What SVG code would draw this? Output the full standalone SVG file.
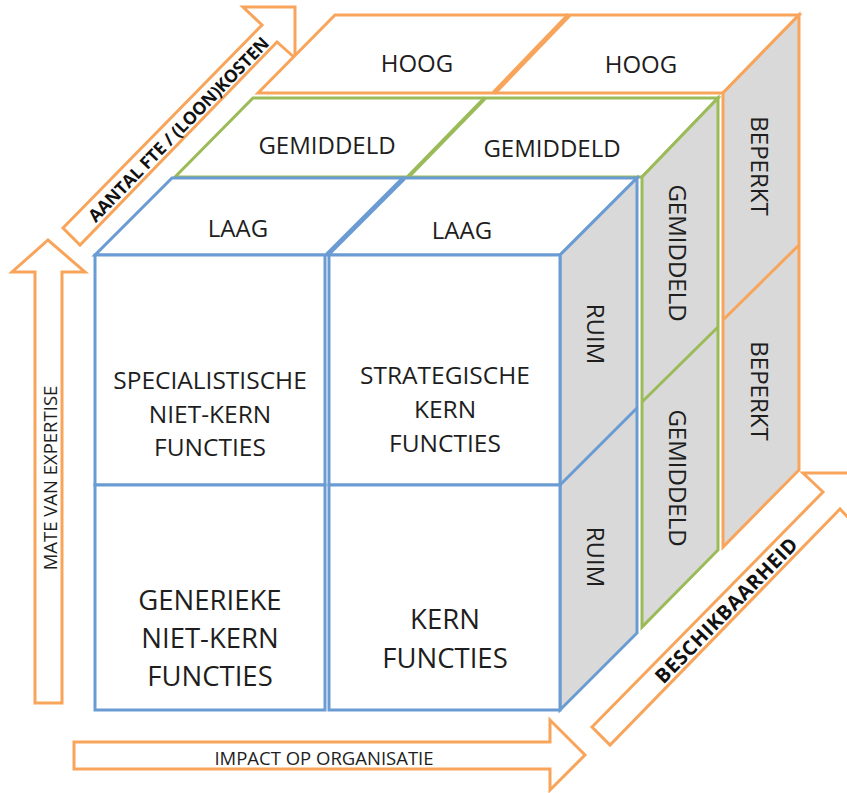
<svg xmlns="http://www.w3.org/2000/svg" width="847" height="793" viewBox="0 0 847 793">
<style>
  .bg{fill:#ffffff}
  .o{stroke:#F8A55B;stroke-width:3;stroke-linejoin:miter}
  .g{stroke:#9BBB59;stroke-width:3;stroke-linejoin:miter}
  .b{stroke:#6A9BD3;stroke-width:3;stroke-linejoin:miter}
  .top{fill:#ffffff}
  .side{fill:#D9D9D9}
  .front{fill:#ffffff}
  .arrow{fill:#ffffff;stroke:#F8A55B;stroke-width:3;stroke-linejoin:miter}
  text{font-family:"Open Sans","Liberation Sans",sans-serif;fill:#1e1e1e;text-anchor:middle;dominant-baseline:central}
  .lbl{font-size:24px}
  .big{font-size:24.5px}
  .big2{font-size:27.5px}
  .ax{font-size:18.5px}
  .axb{font-weight:bold;fill:#111}
</style>
<rect class="bg" x="0" y="0" width="847" height="793"/>

<g id="connectors">
  <g id="arrow-expertise">
    <polygon class="arrow" points="35,703 35,272 12,272 48,240 85,272 62,272 62,703"/>
    <text class="ax" transform="translate(49,478) rotate(-90)">MATE VAN EXPERTISE</text>
  </g>
  <g id="arrow-impact">
    <polygon class="arrow" points="74,742 550,742 550,720 585,755 550,790 550,769 74,769"/>
    <text class="ax" x="324" y="757">IMPACT OP ORGANISATIE</text>
  </g>
  <g id="arrow-fte">
    <polygon class="arrow" points="63,228 262,25 243,7 295,7 295,58 277,42 80,245"/>
    <text class="axb" style="font-size:17.5px" transform="translate(178,129) rotate(-45.7)" textLength="250">AANTAL FTE / (LOON)KOSTEN</text>
  </g>
  <g id="arrow-beschikbaarheid">
    <polygon class="arrow" points="592,727 823,492 803,473 858,473 858,528 840,509 610,745"/>
    <text class="axb" style="font-size:20px" transform="translate(726,610) rotate(-45.7)" textLength="194">BESCHIKBAARHEID</text>
  </g>
</g>

<!-- back layer (orange) -->
<g id="layer-hoog">
  <polygon class="o top" points="258,93 723,93 799,15 335,15"/>
  <line class="o" x1="494" y1="93" x2="569" y2="15" style="stroke-width:5"/>
  <text class="lbl" x="417" y="62">HOOG</text>
  <text class="lbl" x="641" y="63">HOOG</text>
</g>
<g id="layer-beperkt">
  <polygon class="o side" points="723,93 799,15 799,470 723,547"/>
  <line class="o" x1="723" y1="320" x2="799" y2="245"/>
  <text class="lbl" transform="translate(760,166) rotate(90)">BEPERKT</text>
  <text class="lbl" transform="translate(760,391) rotate(90)">BEPERKT</text>
</g>

<!-- middle layer (green) -->
<g id="layer-gemiddeld-top">
  <polygon class="g top" points="175,177 642,177 718,98 253,98"/>
  <line class="g" x1="408" y1="177" x2="485" y2="98" style="stroke-width:4"/>
  <text class="lbl" x="327" y="144">GEMIDDELD</text>
  <text class="lbl" x="552" y="147">GEMIDDELD</text>
</g>
<g id="layer-gemiddeld-side">
  <polygon class="g side" points="642,177 718,98 718,550 642,627"/>
  <line class="g" x1="642" y1="402" x2="718" y2="327"/>
  <text class="lbl" transform="translate(678,253) rotate(90)">GEMIDDELD</text>
  <text class="lbl" transform="translate(678,478) rotate(90)">GEMIDDELD</text>
</g>

<!-- front layer (blue) -->
<g id="layer-laag">
  <polygon class="b top" points="95,255 560,255 637,178 172,178"/>
  <line class="b" x1="327" y1="255" x2="404" y2="178" style="stroke-width:5"/>
  <text class="lbl" x="238" y="227">LAAG</text>
  <text class="lbl" x="462" y="229">LAAG</text>
</g>
<g id="layer-ruim">
  <polygon class="b side" points="560,255 637,178 637,633 560,710"/>
  <line class="b" x1="560" y1="485" x2="637" y2="408"/>
  <text class="lbl" transform="translate(596,334) rotate(90)">RUIM</text>
  <text class="lbl" transform="translate(596,557) rotate(90)">RUIM</text>
</g>

<g id="node-specialistische">
  <rect class="b front" x="95" y="255" width="230" height="230"/>
  <text class="big"><tspan x="210" y="379">SPECIALISTISCHE</tspan><tspan x="210" y="413">NIET-KERN</tspan><tspan x="210" y="446">FUNCTIES</tspan></text>
</g>
<g id="node-strategische">
  <rect class="b front" x="329" y="255" width="231" height="230"/>
  <text class="big"><tspan x="445" y="374">STRATEGISCHE</tspan><tspan x="445" y="408">KERN</tspan><tspan x="445" y="442">FUNCTIES</tspan></text>
</g>
<g id="node-generieke">
  <rect class="b front" x="95" y="485" width="230" height="225"/>
  <text class="big2"><tspan x="210" y="599">GENERIEKE</tspan><tspan x="210" y="637">NIET-KERN</tspan><tspan x="210" y="675">FUNCTIES</tspan></text>
</g>
<g id="node-kern">
  <rect class="b front" x="329" y="485" width="231" height="225"/>
  <text class="big2"><tspan x="445" y="618">KERN</tspan><tspan x="445" y="657">FUNCTIES</tspan></text>
</g>
</svg>
